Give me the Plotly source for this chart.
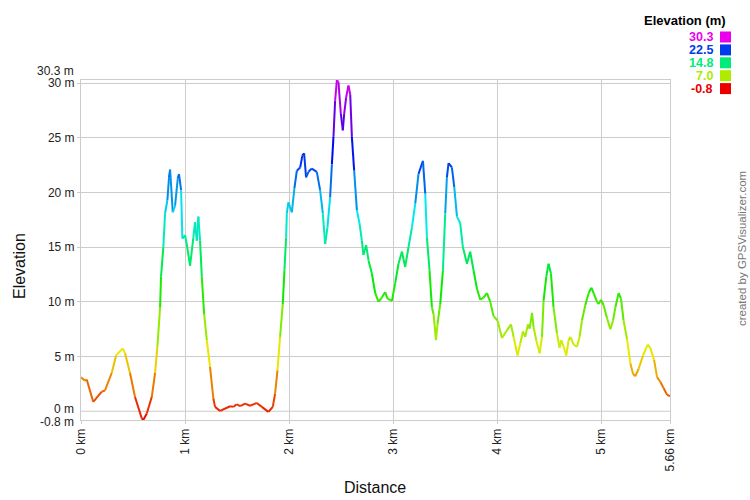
import colorsys
import plotly.graph_objects as go

# ---- data ----
dist_km = [0.0, 0.038, 0.055, 0.118, 0.199, 0.231, 0.295, 0.337, 0.401, 0.423, 0.471, 0.519, 0.584, 0.599,
           0.632, 0.680, 0.712, 0.734, 0.760, 0.769, 0.791, 0.808, 0.830, 0.846, 0.856, 0.882, 0.904, 0.930,
           0.942, 0.962, 0.974, 1.000, 1.016, 1.048, 1.080, 1.096, 1.113, 1.128, 1.144, 1.161, 1.183, 1.209,
           1.240, 1.272, 1.288, 1.337, 1.433, 1.464, 1.497, 1.529, 1.577, 1.625, 1.689, 1.738, 1.801, 1.843,
           1.865, 1.888, 1.913, 1.939, 1.955, 1.971, 1.978, 1.993, 2.026, 2.051, 2.074, 2.106, 2.128, 2.144,
           2.163, 2.186, 2.218, 2.266, 2.298, 2.324, 2.346, 2.368, 2.394, 2.411, 2.426, 2.442, 2.459, 2.474,
           2.497, 2.516, 2.529, 2.548, 2.570, 2.587, 2.603, 2.625, 2.651, 2.676, 2.699, 2.714, 2.740, 2.763,
           2.795, 2.827, 2.859, 2.891, 2.923, 2.945, 2.988, 3.019, 3.051, 3.084, 3.115, 3.147, 3.180, 3.212,
           3.243, 3.286, 3.308, 3.324, 3.349, 3.372, 3.388, 3.411, 3.426, 3.452, 3.478, 3.500, 3.516, 3.532,
           3.564, 3.587, 3.613, 3.644, 3.670, 3.709, 3.740, 3.772, 3.805, 3.837, 3.868, 3.901, 3.933, 3.964,
           4.003, 4.045, 4.093, 4.132, 4.157, 4.195, 4.221, 4.247, 4.269, 4.295, 4.311, 4.334, 4.349, 4.375,
           4.407, 4.430, 4.445, 4.471, 4.493, 4.516, 4.541, 4.574, 4.599, 4.615, 4.638, 4.663, 4.686, 4.702,
           4.734, 4.766, 4.791, 4.814, 4.846, 4.878, 4.904, 4.926, 4.959, 4.974, 4.997, 5.022, 5.055, 5.087,
           5.113, 5.135, 5.166, 5.189, 5.214, 5.247, 5.279, 5.305, 5.327, 5.359, 5.401, 5.445, 5.471, 5.507,
           5.536, 5.567, 5.599, 5.632, 5.66]
elev_m = [3.1, 2.8, 2.9, 0.85, 1.8, 1.9, 3.5, 5.1, 5.75, 5.3, 3.5, 1.3, -0.65, -0.8,
          -0.2, 1.3, 3.5, 5.9, 9.5, 12.3, 15.0, 18.1, 19.3, 21.4, 22.1, 18.2, 18.8, 21.3,
          21.7, 20.2, 15.8, 16.1, 15.3, 13.3, 15.9, 17.3, 15.6, 17.8, 15.6, 12.3, 8.9, 6.5,
          4.05, 1.16, 0.4, 0.03, 0.46, 0.4, 0.64, 0.46, 0.7, 0.5, 0.76, 0.4, -0.06, 0.4,
          1.6, 3.75, 6.8, 9.8, 12.9, 15.9, 18.1, 19.1, 18.2, 20.4, 22.0, 22.3, 23.4, 23.6,
          21.4, 21.9, 22.2, 21.9, 20.2, 18.1, 15.3, 16.8, 19.6, 22.6, 25.1, 28.4, 30.3, 30.1,
          27.2, 25.7, 27.2, 28.7, 29.8, 29.0, 25.1, 22.0, 18.4, 17.2, 15.6, 14.3, 15.2, 13.8,
          12.6, 10.8, 10.0, 10.4, 10.9, 10.3, 10.1, 11.7, 13.5, 14.6, 13.2, 15.0, 16.8, 19.0,
          21.7, 22.9, 19.9, 15.9, 12.9, 9.5, 8.9, 6.5, 8.0, 9.8, 12.9, 18.1, 21.4, 22.7,
          22.3, 20.5, 17.8, 17.2, 15.0, 13.5, 14.6, 12.9, 11.2, 10.2, 10.4, 10.8, 10.0, 8.7,
          8.3, 6.7, 7.4, 7.95, 6.8, 5.1, 6.2, 7.3, 6.8, 7.95, 7.55, 9.0, 7.7, 6.5,
          5.3, 6.8, 10.1, 12.3, 13.5, 12.6, 9.5, 7.1, 5.8, 6.5, 5.9, 5.1, 6.5, 6.8,
          6.1, 5.9, 6.8, 8.3, 9.7, 10.8, 11.3, 10.8, 10.0, 9.8, 10.2, 9.7, 8.5, 7.5,
          8.3, 9.5, 10.8, 10.3, 8.3, 6.6, 4.4, 3.4, 3.2, 3.9, 5.1, 6.1, 5.8, 4.7,
          3.1, 2.7, 2.1, 1.5, 1.4]

x_tick_vals = [0, 1, 2, 3, 4, 5, 5.66]
x_tick_text = ["0 km", "1 km", "2 km", "3 km", "4 km", "5 km", "5.66 km"]
y_tick_vals = [5, 10, 15, 20, 25, 30]
y_tick_text = ["5 m", "10 m", "15 m", "20 m", "25 m", "30 m"]
legend_values = [30.3, 22.5, 14.8, 7.0, -0.8]

E_MIN, E_MAX = -0.8, 30.3


def elev_color(v):
    t = (v - E_MIN) / (E_MAX - E_MIN)
    t = max(0.0, min(1.0, t))
    r, g, b = colorsys.hsv_to_rgb(300.0 * t / 360.0, 1.0, 0.92)
    return "rgb(%d,%d,%d)" % (round(r * 255), round(g * 255), round(b * 255))


fig = go.Figure()
for i in range(len(dist_km) - 1):
    mid = (elev_m[i] + elev_m[i + 1]) / 2.0
    fig.add_trace(go.Scatter(
        x=[dist_km[i], dist_km[i + 1]], y=[elev_m[i], elev_m[i + 1]],
        mode="lines", line=dict(color=elev_color(mid), width=2),
        hoverinfo="skip", showlegend=False))

W, H = 750, 500
L, R, T, B = 81, 80, 80, 80
PW, PH = W - L - R, H - T - B


def px(xp):
    return (xp - L) / PW


def py(yp):
    return (H - B - yp) / PH


FONT = "Liberation Sans, Arial, sans-serif"
TICKC = "#222"
annotations = []
shapes = []

# zero gridline
shapes.append(dict(type="line", xref="paper", yref="y", x0=0, x1=1, y0=0, y1=0,
                   line=dict(color="#cccccc", width=1), layer="below"))
# special y labels (top / bottom extremes and zero) placed like the reference
annotations.append(dict(x=0, y=30.3, xref="paper", yref="y", text="30.3 m", showarrow=False,
                        xanchor="right", yanchor="middle", xshift=-5, yshift=9,
                        font=dict(family=FONT, size=12, color=TICKC)))
annotations.append(dict(x=0, y=0, xref="paper", yref="y", text="0 m", showarrow=False,
                        xanchor="right", yanchor="middle", xshift=-5, yshift=2,
                        font=dict(family=FONT, size=12, color=TICKC)))
annotations.append(dict(x=0, y=-0.8, xref="paper", yref="y", text="-0.8 m", showarrow=False,
                        xanchor="right", yanchor="middle", xshift=-5, yshift=-2,
                        font=dict(family=FONT, size=12, color=TICKC)))
# axis titles
annotations.append(dict(x=px(19), y=py(266), xref="paper", yref="paper", text="Elevation", showarrow=False,
                        xanchor="center", yanchor="middle",
                        textangle=-90, font=dict(family=FONT, size=16, color="#111")))
annotations.append(dict(x=px(375), y=py(487), xref="paper", yref="paper", text="Distance", showarrow=False,
                        xanchor="center", yanchor="middle",
                        font=dict(family=FONT, size=16, color="#111")))
# watermark
annotations.append(dict(x=px(742), y=py(249), xref="paper", yref="paper", text="created by GPSVisualizer.com",
                        xanchor="center", yanchor="middle",
                        showarrow=False, textangle=-90, font=dict(family=FONT, size=11.5, color="#777")))
# legend
annotations.append(dict(x=px(728), y=py(21), xref="paper", yref="paper", text="<b>Elevation (m)</b>",
                        showarrow=False, xanchor="right", yanchor="middle",
                        font=dict(family=FONT, size=13, color="#000")))
for k, v in enumerate(legend_values):
    yc = 37 + k * 12.9
    col = elev_color(v)
    annotations.append(dict(x=px(715), y=py(yc), xref="paper", yref="paper", text="<b>%.1f</b>" % v,
                            showarrow=False, xanchor="right", yanchor="middle",
                            font=dict(family=FONT, size=12.5, color=col)))
    shapes.append(dict(type="rect", xref="paper", yref="paper",
                       x0=px(720), x1=px(731), y0=py(yc - 5.5), y1=py(yc + 5.5),
                       fillcolor=col, line=dict(width=0)))

fig.update_layout(
    width=W, height=H,
    margin=dict(l=L, r=R, t=T, b=B, autoexpand=False),
    paper_bgcolor="white", plot_bgcolor="white",
    font=dict(family=FONT, size=12, color=TICKC),
    showlegend=False,
    annotations=annotations,
    shapes=shapes,
    xaxis=dict(range=[0, 5.66], tickvals=x_tick_vals, ticktext=x_tick_text, tickangle=-90,
               showgrid=True, gridcolor="#cccccc", gridwidth=1, zeroline=False,
               showline=True, linecolor="#cccccc", linewidth=1, mirror=True,
               ticks="outside", ticklen=3, tickcolor="#cccccc", automargin=False,
               tickfont=dict(family=FONT, size=12, color=TICKC)),
    yaxis=dict(range=[-0.8, 30.3], tickvals=y_tick_vals, ticktext=y_tick_text,
               showgrid=True, gridcolor="#cccccc", gridwidth=1, zeroline=False,
               showline=True, linecolor="#cccccc", linewidth=1, mirror=True,
               ticks="outside", ticklen=3, tickcolor="#cccccc", automargin=False,
               tickfont=dict(family=FONT, size=12, color=TICKC)),
)

fig.write_html("out.html", config={"displayModeBar": False},
               post_script="document.body.style.margin='0px';")
